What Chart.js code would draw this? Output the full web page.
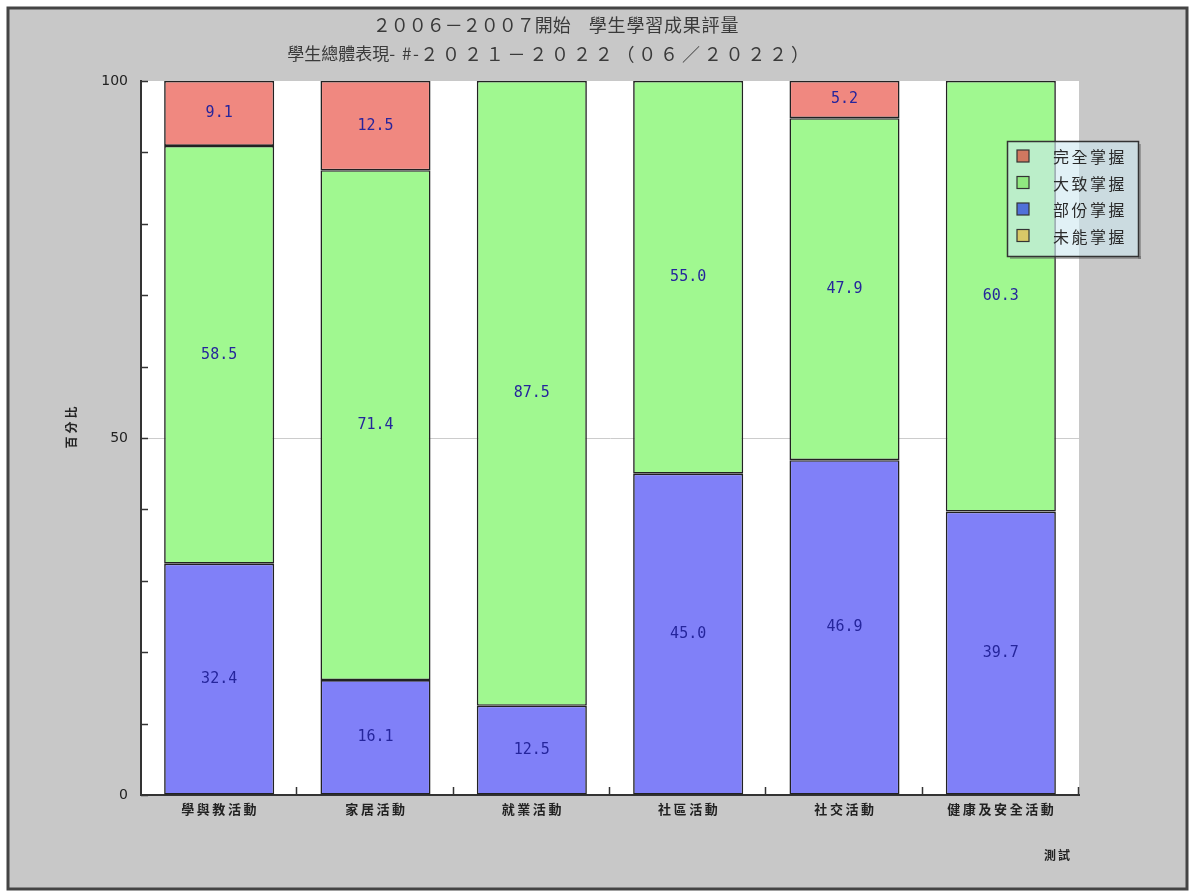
<!DOCTYPE html>
<html>
<head>
<meta charset="utf-8">
<script src="https://cdn.jsdelivr.net/npm/chart.js@4.4.1/dist/chart.umd.min.js"></script>
<style>
  html, body { margin: 0; padding: 0; background: #ffffff; }
  canvas { display: block; }
</style>
</head>
<body>
<canvas id="chart" width="1192" height="892"></canvas>
<script>
// data
const categories = ['學與教活動', '家居活動', '就業活動', '社區活動', '社交活動', '健康及安全活動'];
const fullMastery = [9.1, 12.5, 0, 0, 5.2, 0];            // 完全掌握
const mostMastery = [58.5, 71.4, 87.5, 55.0, 47.9, 60.3]; // 大致掌握
const partMastery = [32.4, 16.1, 12.5, 45.0, 46.9, 39.7]; // 部份掌握
const noMastery = [0, 0, 0, 0, 0, 0];                     // 未能掌握
const yTicks = [0, 50, 100];

const cjk = '"Noto Sans CJK TC", "Noto Sans CJK SC", sans-serif';

// title lines as [text, font, letterSpacing] pieces
const titleLines = [
  { y: 25, cx: 556, parts: [['２００６－２００７開始　', '18px ' + cjk, 0], ['學生學習成果評量', '18px ' + cjk, 0.8]] },
  { y: 54, cx: 550, parts: [['學生總體表現', '17px ' + cjk, 0], ['- #-', '17px ' + cjk, 1.5], ['２０２１－２０２２（０６／２０２２）', '18px ' + cjk, 3.8]] }
];

function spacedText(ctx, text, x, y, spacing) {
  ctx.letterSpacing = spacing + 'px';
  ctx.fillText(text, x, y);
  ctx.letterSpacing = '0px';
}

// background, frame, titles, inner ticks, value labels, legend
const decor = {
  id: 'decor',
  beforeDraw(chart) {
    const ctx = chart.ctx;
    ctx.save();
    ctx.fillStyle = '#ffffff';
    ctx.fillRect(0, 0, chart.width, chart.height);
    ctx.fillStyle = '#c8c8c8';
    ctx.fillRect(8, 8, 1179, 881);
    ctx.strokeStyle = '#444';
    ctx.lineWidth = 3;
    ctx.strokeRect(8, 8, 1179, 881);
    const a = chart.chartArea;
    ctx.fillStyle = '#ffffff';
    ctx.fillRect(a.left, a.top, a.right - a.left, a.bottom - a.top);
    ctx.restore();
  },
  afterDatasetsDraw(chart) {
    const ctx = chart.ctx;
    const a = chart.chartArea;
    const ys = chart.scales.y;
    const xs = chart.scales.x;
    ctx.save();

    // inner ticks on y axis
    ctx.strokeStyle = '#333';
    ctx.lineWidth = 1.5;
    for (let v = 0; v <= 100; v += 10) {
      const py = Math.round(ys.getPixelForValue(v)) + 0.5;
      ctx.beginPath();
      ctx.moveTo(a.left, py);
      ctx.lineTo(a.left + 7, py);
      ctx.stroke();
    }
    // inner ticks at category boundaries
    const step = (a.right - a.left) / categories.length;
    for (let i = 1; i <= categories.length; i++) {
      const px = Math.round(xs.getPixelForValue(i - 1) + step / 2) - 0.5;
      ctx.beginPath();
      ctx.moveTo(px, a.bottom);
      ctx.lineTo(px, a.bottom - 8);
      ctx.stroke();
    }

    // value labels
    ctx.fillStyle = '#25259c';
    ctx.font = '15px "DejaVu Sans Mono", monospace';
    ctx.textAlign = 'center';
    ctx.textBaseline = 'middle';
    chart.data.datasets.forEach((ds, di) => {
      const meta = chart.getDatasetMeta(di);
      meta.data.forEach((bar, i) => {
        const v = ds.data[i];
        if (!v) return;
        ctx.fillText(v.toFixed(1), bar.x, (bar.y + bar.base) / 2);
      });
    });

    // category labels
    ctx.fillStyle = '#222';
    ctx.font = 'bold 13px ' + cjk;
    chart.data.labels.forEach((lab, i) => {
      spacedText(ctx, lab, xs.getPixelForValue(i) + 1, a.bottom + 14, 2.6);
    });

    // titles
    ctx.fillStyle = '#3a3a3a';
    ctx.textAlign = 'left';
    titleLines.forEach(line => {
      let total = 0;
      line.parts.forEach(p => {
        ctx.font = p[1];
        ctx.letterSpacing = p[2] + 'px';
        total += ctx.measureText(p[0]).width;
      });
      let x = line.cx - total / 2;
      line.parts.forEach(p => {
        ctx.font = p[1];
        ctx.letterSpacing = p[2] + 'px';
        ctx.fillText(p[0], x, line.y);
        x += ctx.measureText(p[0]).width;
      });
      ctx.letterSpacing = '0px';
    });
    ctx.textAlign = 'center';

    // y axis title
    ctx.save();
    ctx.translate(71, 426);
    ctx.rotate(-Math.PI / 2);
    ctx.font = 'bold 12px ' + cjk;
    ctx.fillStyle = '#222';
    spacedText(ctx, '百分比', 0, 0, 3);
    ctx.restore();

    // footer note
    ctx.font = 'bold 12px ' + cjk;
    ctx.fillStyle = '#222';
    spacedText(ctx, '測試', 1058, 855, 2);

    // legend box with a thin shadow on right and bottom
    const lx = 1007, ly = 141, lw = 131, lh = 115;
    ctx.fillStyle = 'rgba(90,90,90,0.45)';
    ctx.fillRect(lx + lw, ly + 3, 3, lh);
    ctx.fillRect(lx + 3, ly + lh, lw, 3);
    ctx.fillStyle = 'rgba(205,232,240,0.6)';
    ctx.fillRect(lx, ly, lw, lh);
    ctx.strokeStyle = '#333';
    ctx.lineWidth = 1.5;
    ctx.strokeRect(lx + 0.5, ly + 0.5, lw, lh);
    const order = chart.data.datasets.slice().reverse();
    ctx.textAlign = 'left';
    ctx.font = '16px ' + cjk;
    order.forEach((ds, k) => {
      const cy = ly + 15 + k * 26.5;
      ctx.fillStyle = ds.legendColor;
      ctx.fillRect(lx + 10, cy - 6, 12, 12);
      ctx.strokeStyle = '#333';
      ctx.lineWidth = 1.2;
      ctx.strokeRect(lx + 10, cy - 6, 12, 12);
      ctx.fillStyle = '#2a2a2a';
      spacedText(ctx, ds.label, lx + 46, cy + 1, 2.5);
    });
    ctx.restore();
  }
};

const mk = (label, data, color, legendColor) => ({
  label: label,
  data: data,
  backgroundColor: color,
  legendColor: legendColor,
  borderColor: '#222',
  borderWidth: 1.6,
  borderSkipped: false,
  barPercentage: 0.704,
  categoryPercentage: 1.0
});

new Chart(document.getElementById('chart'), {
  type: 'bar',
  data: {
    labels: categories,
    datasets: [
      mk('未能掌握', noMastery, '#f0d870', '#d8c868'),
      mk('部份掌握', partMastery, '#8080f8', '#5070d8'),
      mk('大致掌握', mostMastery, '#a0f890', '#90e880'),
      mk('完全掌握', fullMastery, '#f08880', '#d07860')
    ]
  },
  options: {
    responsive: false,
    animation: false,
    layout: { padding: { left: 81, top: 81, right: 113, bottom: 67 } },
    plugins: {
      legend: { display: false },
      title: { display: false },
      tooltip: { enabled: false }
    },
    scales: {
      x: {
        stacked: true,
        afterFit: s => { s.height = 30; },
        grid: { display: false, drawTicks: false },
        border: { color: '#333', width: 2 },
        ticks: { display: false }
      },
      y: {
        stacked: true,
        min: 0,
        max: 100,
        afterFit: s => { s.width = 60; },
        afterBuildTicks: s => { s.ticks = yTicks.map(v => ({ value: v })); },
        grid: {
          drawTicks: false,
          color: c => (c.tick && c.tick.value === 50 ? '#cccccc' : 'rgba(0,0,0,0)')
        },
        border: { color: '#333', width: 2 },
        ticks: {
          padding: 13,
          color: '#222',
          font: { family: '"DejaVu Sans", sans-serif', size: 14 }
        }
      }
    }
  },
  plugins: [decor]
});
</script>
</body>
</html>
